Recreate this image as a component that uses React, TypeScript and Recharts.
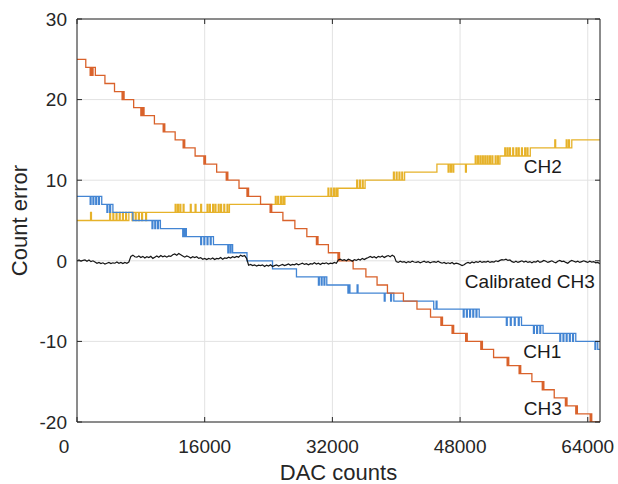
import React from "react";
import {
  LineChart,
  Line,
  XAxis,
  YAxis,
  CartesianGrid,
  ReferenceDot,
} from "recharts";

// ---------- data ----------
const X_MAX = 65535;
const xTicks = [0, 16000, 32000, 48000, 64000];
const yTicks = [-20, -10, 0, 10, 20, 30];

// [DAC count where the level starts, count error level]
const ch1Steps = [
  [0, 8], [3100, 7], [4500, 6], [7000, 5], [10450, 4], [13700, 3], [17100, 2],
  [19500, 1], [21300, 0], [24500, -1], [27500, -2], [31300, -3], [34200, -4],
  [39700, -5], [44700, -6], [50400, -7], [55700, -8], [58400, -9], [62500, -10],
  [65250, -11],
];
// [DAC count, value] of short toggles between adjacent levels
const ch1Spikes = [
  [1650, 7], [2000, 7], [2350, 7], [2700, 7], [3750, 6], [4100, 6], [9400, 4],
  [9750, 4], [10100, 4], [13250, 3], [13500, 3], [15500, 2], [15900, 2],
  [16300, 2], [16700, 2], [18900, 1], [19200, 1], [30250, -3], [30600, -3],
  [30950, -3], [33950, -4], [35100, -3], [38500, -5], [39300, -5], [45000, -5],
  [48400, -7], [48800, -7], [49200, -7], [49600, -7], [50000, -7], [53800, -8],
  [54300, -8], [54800, -8], [55300, -8], [57200, -9], [57600, -9], [58000, -9],
  [60500, -10], [60900, -10], [61300, -10], [61700, -10], [62100, -10],
  [64900, -11],
];

const ch2Steps = [
  [0, 5], [6500, 6], [19100, 7], [26050, 8], [32700, 9], [36100, 10],
  [41050, 11], [45100, 12], [53000, 13], [56800, 14], [62000, 15],
];
const ch2Spikes = [
  [1700, 6], [4100, 6], [4500, 6], [4900, 6], [5300, 6], [5700, 6], [6100, 6],
  [6900, 5], [7300, 5], [7700, 5], [8100, 5], [8600, 5], [12300, 7],
  [12600, 7], [12900, 7], [13300, 7], [14200, 7], [14800, 7], [15500, 7],
  [16300, 7], [16600, 7], [17000, 7], [17300, 7], [17700, 7], [18000, 7],
  [18400, 7], [18800, 7], [24850, 8], [25150, 8], [25500, 8], [25800, 8],
  [31450, 9], [31800, 9], [32150, 9], [32450, 9], [35050, 10], [35400, 10],
  [35750, 10], [39650, 11], [40000, 11], [40350, 11], [40700, 11], [46500, 11],
  [46800, 11], [47100, 11], [48680, 11], [49900, 13], [50200, 13], [50500, 13],
  [50800, 13], [51100, 13], [51400, 13], [51700, 13], [52000, 13], [52400, 13],
  [52700, 13], [53600, 14], [53900, 14], [54200, 14], [54600, 14], [55000, 14],
  [55300, 14], [55700, 14], [56100, 14], [56400, 14], [59870, 15], [61300, 15],
  [61600, 15],
];

const ch3Steps = [
  [0, 25], [1100, 24], [2300, 23], [3500, 22], [4700, 21], [5900, 20],
  [7100, 19], [8400, 18], [9700, 17], [11000, 16], [12300, 15], [13500, 14],
  [14800, 13], [16100, 12], [17500, 11], [18900, 10], [20300, 9], [21500, 8],
  [23000, 7], [24400, 6], [25800, 5], [27300, 4], [28800, 3], [30200, 2],
  [31500, 1], [32900, 0], [34600, -1], [36200, -2], [37600, -3], [38900, -4],
  [40900, -5], [42600, -6], [44300, -7], [45800, -8], [47200, -9], [48900, -10],
  [50800, -11], [52200, -12], [54100, -13], [55600, -14], [57000, -15],
  [58500, -16], [59800, -17], [61400, -18], [62700, -19], [64500, -20],
];
const ch3Spikes = [
  [1650, 23], [1900, 23], [5650, 20], [8000, 18], [8200, 18], [10800, 16],
  [13300, 14], [15900, 12], [18700, 10], [21300, 8], [24200, 6], [30000, 2],
  [32700, 0], [45600, -8], [47000, -9], [48700, -10], [50600, -11],
  [53900, -13], [55400, -14], [58300, -16], [61200, -18], [62500, -19],
  [64300, -20],
];

// Calibrated CH3, sampled every 250 DAC counts (0 ... 65250), then the end value
const CAL_STEP = 250;
const calibratedValues = [
  0.0, 0.1, -0.05, 0.05, 0.1, -0.05, 0.1, -0.1, 0.0, -0.15,
  -0.3, -0.2, -0.35, -0.25, -0.4, -0.3, -0.2, -0.35, -0.25, -0.3,
  -0.15, -0.3, -0.2, -0.35, -0.2, -0.3, -0.15, 0.55, 0.7, 0.5,
  0.45, 0.6, 0.4, 0.55, 0.35, 0.5, 0.4, 0.55, 0.3, 0.45,
  0.6, 0.45, 0.65, 0.5, 0.6, 0.45, 0.6, 0.55, 0.75, 0.85,
  0.7, 0.9, 0.75, 0.6, 0.45, 0.6, 0.5, 0.35, 0.5, 0.4,
  0.5, 0.3, 0.4, 0.2, 0.3, 0.15, 0.3, 0.2, 0.35, 0.15,
  0.3, 0.25, 0.4, 0.2, 0.35, 0.3, 0.45, 0.35, 0.5, 0.4,
  0.55, 0.45, 0.7, 0.55, 0.65, 0.3, -0.55, -0.45, -0.6, -0.5,
  -0.65, -0.55, -0.6, -0.5, -0.7, -0.55, -0.65, -0.5, -0.7, -0.6,
  -0.5, -0.65, -0.55, -0.45, -0.6, -0.5, -0.4, -0.55, -0.45, -0.5,
  -0.35, -0.5, -0.4, -0.3, -0.45, -0.35, -0.5, -0.35, -0.4, -0.25,
  -0.4, -0.3, -0.45, -0.3, -0.35, -0.25, -0.4, -0.3, -0.35, -0.2,
  -0.3, 0.1, 0.2, 0.05, 0.15, 0.0, 0.2, 0.1, -0.05, 0.15,
  0.05, 0.2, 0.1, 0.3, 0.15, 0.3, 0.4, 0.55, 0.4, 0.5,
  0.35, 0.55, 0.45, 0.6, 0.4, 0.55, 0.65, 0.5, 0.7, 0.55,
  -0.1, -0.2, -0.05, -0.15, -0.1, -0.25, -0.1, -0.2, -0.05, -0.15,
  -0.2, -0.1, -0.25, -0.15, -0.05, -0.2, -0.1, -0.25, -0.15, -0.1,
  -0.2, -0.05, -0.2, -0.3, -0.2, -0.35, -0.25, -0.35, -0.2, -0.4,
  -0.3, -0.35, -0.45, -0.6, -0.5, -0.3, -0.2, -0.3, -0.15, -0.25,
  -0.1, -0.2, -0.05, -0.2, -0.1, -0.15, -0.05, -0.2, -0.1, -0.15,
  0.0, -0.1, 0.05, 0.15, 0.1, 0.2, 0.05, 0.1, -0.1, -0.2,
  -0.05, -0.2, -0.1, 0.0, -0.15, -0.05, -0.2, -0.1, -0.25, -0.1,
  -0.15, 0.0, -0.2, -0.1, 0.05, -0.05, -0.2, -0.1, 0.0, -0.15,
  -0.25, -0.05, 0.05, -0.1, -0.05, -0.2, -0.3, -0.1, 0.05, -0.05,
  -0.15, -0.05, -0.2, -0.1, 0.0, -0.1, -0.2, -0.05, -0.15, -0.1,
  -0.25, -0.2,
];
const calibratedEnd = -0.35;

const labels = [
  { text: "CH2", x: 58370, y: 11.7 },
  { text: "Calibrated CH3", x: 56740, y: -2.5 },
  { text: "CH1", x: 58300, y: -11.25 },
  { text: "CH3", x: 58370, y: -18.3 },
];

// ---------- helpers ----------
const SPIKE_WIDTH = 110;

function buildSteps(steps: number[][], spikes: number[][]) {
  const levelAt = (x: number) => {
    let l = steps[0][1];
    for (const [sx, v] of steps) if (sx <= x) l = v;
    return l;
  };
  const pts = steps.map(([x, y]) => ({ x, y }));
  for (const [sx, sy] of spikes) {
    pts.push({ x: sx, y: sy });
    pts.push({ x: sx + SPIKE_WIDTH, y: levelAt(sx + SPIKE_WIDTH) });
  }
  pts.sort((a, b) => a.x - b.x);
  pts.push({ x: X_MAX, y: levelAt(X_MAX) });
  return pts;
}

const ch1Data = buildSteps(ch1Steps, ch1Spikes);
const ch2Data = buildSteps(ch2Steps, ch2Spikes);
const ch3Data = buildSteps(ch3Steps, ch3Spikes);
const calData = calibratedValues
  .map((v, i) => ({ x: i * CAL_STEP, y: v }))
  .concat([{ x: X_MAX, y: calibratedEnd }]);

// ---------- styling ----------
const AXIS = "#262626";
const FONT = '"Liberation Sans", Arial, Helvetica, sans-serif';
const TICK_LEN = 5;

const BottomTick = (props: any) => {
  const { x, y, payload } = props;
  const v = payload.value;
  return (
    <g>
      <line x1={x} x2={x} y1={y} y2={y - TICK_LEN} stroke={AXIS} strokeWidth={1} />
      <text
        x={v === 0 ? x - 13 : x}
        y={y + 31}
        textAnchor="middle"
        fill={AXIS}
        fontSize={19}
        fontFamily={FONT}
      >
        {String(v)}
      </text>
    </g>
  );
};

const TopTick = (props: any) => {
  const { x, y } = props;
  return <line x1={x} x2={x} y1={y} y2={y + TICK_LEN} stroke={AXIS} strokeWidth={1} />;
};

const LeftTick = (props: any) => {
  const { x, y, payload } = props;
  return (
    <g>
      <line x1={x} x2={x + TICK_LEN} y1={y} y2={y} stroke={AXIS} strokeWidth={1} />
      <text
        x={x - 10}
        y={y}
        dy="0.36em"
        textAnchor="end"
        fill={AXIS}
        fontSize={19}
        fontFamily={FONT}
      >
        {String(payload.value)}
      </text>
    </g>
  );
};

const RightTick = (props: any) => {
  const { x, y } = props;
  return <line x1={x} x2={x - TICK_LEN} y1={y} y2={y} stroke={AXIS} strokeWidth={1} />;
};

const YTitle = (props: any) => {
  const vb = props.viewBox || { x: 0, y: 0, width: 0, height: 0 };
  const cx = vb.x + 27;
  const cy = vb.y + vb.height / 2;
  return (
    <text
      x={cx}
      y={cy}
      transform={`rotate(-90 ${cx} ${cy})`}
      textAnchor="middle"
      fill={AXIS}
      fontSize={22}
      fontFamily={FONT}
    >
      Count error
    </text>
  );
};

const XTitle = (props: any) => {
  const vb = props.viewBox || { x: 0, y: 0, width: 0, height: 0 };
  return (
    <text
      x={vb.x + vb.width / 2}
      y={vb.y + 58}
      textAnchor="middle"
      fill={AXIS}
      fontSize={22}
      fontFamily={FONT}
    >
      DAC counts
    </text>
  );
};

export default function App() {
  return (
    <div
      style={{
        position: "absolute",
        left: 0,
        top: 0,
        width: 618,
        height: 484,
        overflow: "hidden",
        background: "#fff",
      }}
    >
      <LineChart
        width={618}
        height={484}
        margin={{ top: 14, right: 8, bottom: 6, left: 0 }}
      >
        <CartesianGrid stroke="#e2e2e2" strokeWidth={1} fill="none" />
        <XAxis
          dataKey="x"
          type="number"
          domain={[0, X_MAX]}
          ticks={xTicks}
          interval={0}
          allowDataOverflow
          height={56}
          tickSize={0}
          tickMargin={0}
          tickLine={false}
          axisLine={{ stroke: AXIS, strokeWidth: 1 }}
          tick={<BottomTick />}
          label={<XTitle />}
        />
        <XAxis
          xAxisId="top"
          orientation="top"
          dataKey="x"
          type="number"
          domain={[0, X_MAX]}
          ticks={xTicks}
          interval={0}
          allowDataOverflow
          height={5}
          tickSize={0}
          tickMargin={0}
          tickLine={false}
          axisLine={{ stroke: AXIS, strokeWidth: 1 }}
          tick={<TopTick />}
        />
        <YAxis
          type="number"
          domain={[-20, 30]}
          ticks={yTicks}
          interval={0}
          allowDataOverflow
          width={77}
          tickSize={0}
          tickMargin={0}
          tickLine={false}
          axisLine={{ stroke: AXIS, strokeWidth: 1 }}
          tick={<LeftTick />}
          label={<YTitle />}
        />
        <YAxis
          yAxisId="right"
          orientation="right"
          type="number"
          domain={[-20, 30]}
          ticks={yTicks}
          interval={0}
          allowDataOverflow
          width={10}
          tickSize={0}
          tickMargin={0}
          tickLine={false}
          axisLine={{ stroke: AXIS, strokeWidth: 1 }}
          tick={<RightTick />}
        />
        <Line
          data={ch2Data}
          dataKey="y"
          type="stepAfter"
          stroke="#E6B22A"
          strokeWidth={1.3}
          dot={false}
          activeDot={false}
          isAnimationActive={false}
        />
        <Line
          data={ch1Data}
          dataKey="y"
          type="stepAfter"
          stroke="#4385D3"
          strokeWidth={1.3}
          dot={false}
          activeDot={false}
          isAnimationActive={false}
        />
        <Line
          data={ch3Data}
          dataKey="y"
          type="stepAfter"
          stroke="#D9622B"
          strokeWidth={1.3}
          dot={false}
          activeDot={false}
          isAnimationActive={false}
        />
        <Line
          data={calData}
          dataKey="y"
          type="linear"
          stroke="#151515"
          strokeWidth={1.2}
          dot={false}
          activeDot={false}
          isAnimationActive={false}
        />
        {labels.map((l) => (
          <ReferenceDot
            key={l.text}
            x={l.x}
            y={l.y}
            r={0}
            fill="none"
            stroke="none"
            label={{
              value: l.text,
              position: "center",
              fontSize: 19,
              fill: "#1a1a1a",
              fontFamily: FONT,
            }}
          />
        ))}
      </LineChart>
    </div>
  );
}
